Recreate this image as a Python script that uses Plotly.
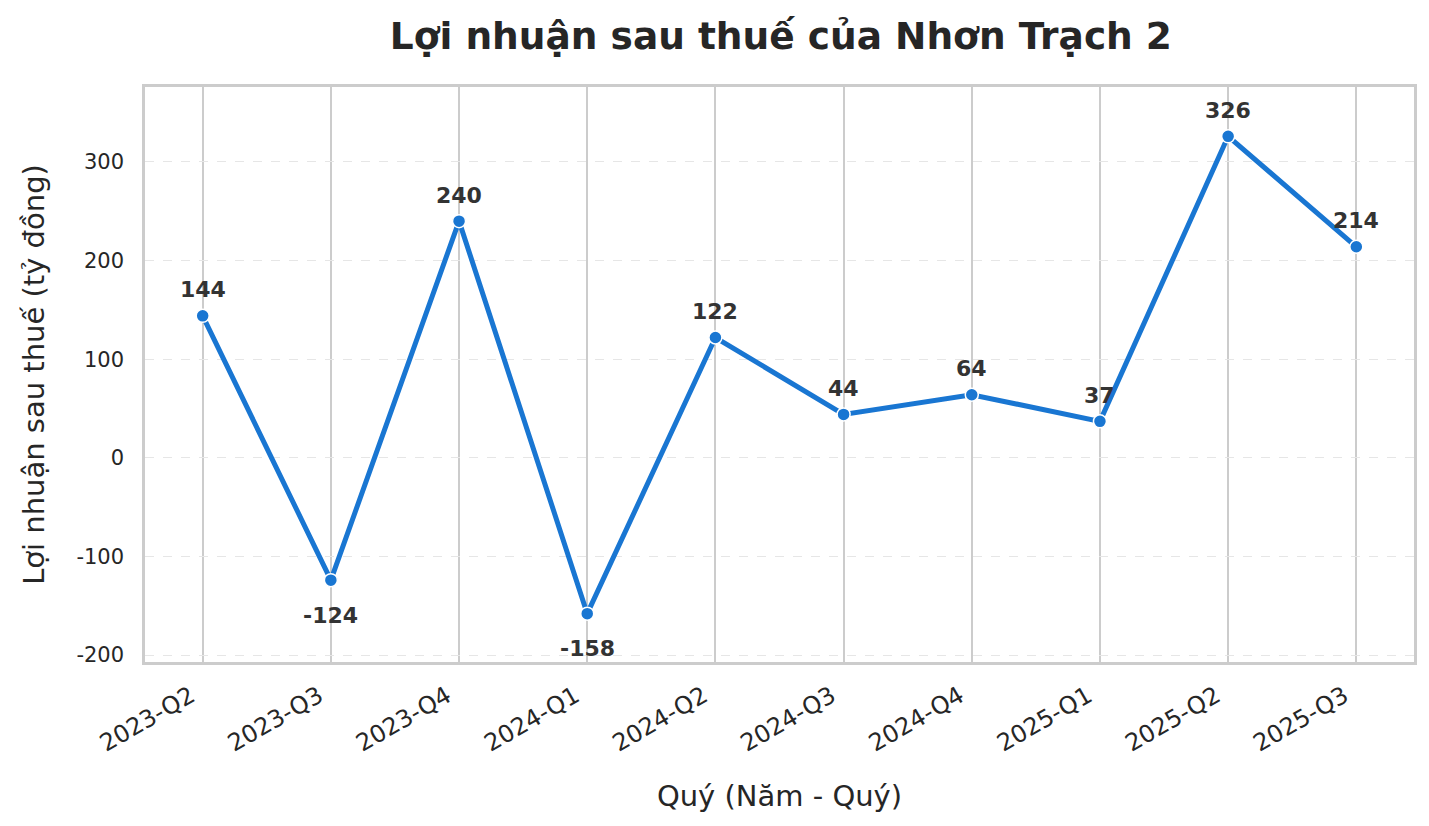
import plotly.graph_objects as go

quarters = ["2023-Q2", "2023-Q3", "2023-Q4", "2024-Q1", "2024-Q2",
            "2024-Q3", "2024-Q4", "2025-Q1", "2025-Q2", "2025-Q3"]
profit = [144, -124, 240, -158, 122, 44, 64, 37, 326, 214]
y_ticks = [-200, -100, 0, 100, 200, 300]

LINE = "#1976d2"
TEXT = "#262626"
GRID = "#cccccc"

fig = go.Figure(go.Scatter(
    x=list(range(len(quarters))),
    y=profit,
    mode="lines+markers",
    line=dict(color=LINE, width=5),
    marker=dict(size=13, color=LINE, line=dict(color="white", width=1.5)),
    hoverinfo="x+y",
))

# nhãn giá trị: trên điểm nếu dương, dưới điểm nếu âm
for i, v in enumerate(profit):
    fig.add_annotation(
        x=i, y=v, text=f"<b>{v}</b>", showarrow=False,
        yshift=26 if v >= 0 else -35,
        font=dict(family="DejaVu Sans", size=22, color="#333333"),
    )

fig.update_layout(
    width=1413, height=810,
    margin=dict(l=137, r=4, t=79, b=156),
    paper_bgcolor="white", plot_bgcolor="white",
    font=dict(family="DejaVu Sans", color=TEXT),
    showlegend=False,
    title=dict(
        text="<b>Lợi nhuận sau thuế của Nhơn Trạch 2</b>",
        x=0.547, xanchor="center", y=0.965, yanchor="middle",
        font=dict(size=37.5, color=TEXT),
    ),
    xaxis=dict(
        range=[-0.45, len(quarters) - 0.55],
        tickmode="array", tickvals=list(range(len(quarters))), ticktext=quarters,
        tickangle=-30, tickfont=dict(size=24, color=TEXT),
        showgrid=True, gridcolor=GRID, gridwidth=1.5,
        zeroline=False, showline=True, linecolor=GRID, linewidth=2.5, mirror=True,
        ticks="", ticklabelstandoff=8, ticklabelshift=-12,
        title=dict(text="Quý (Năm - Quý)", font=dict(size=29, color=TEXT), standoff=30),
    ),
    yaxis=dict(
        range=[-207, 376],
        tickmode="array", tickvals=y_ticks, ticktext=[str(t) for t in y_ticks],
        tickfont=dict(size=21, color=TEXT),
        showgrid=True, gridcolor="#e6e6e6", gridwidth=1.2, griddash="dash",
        zeroline=False, showline=True, linecolor=GRID, linewidth=2.5, mirror=True,
        ticks="", ticklabelstandoff=14,
        title=dict(text="Lợi nhuận sau thuế (tỷ đồng)", font=dict(size=29, color=TEXT), standoff=24),
    ),
)

fig.write_html("out.html")
